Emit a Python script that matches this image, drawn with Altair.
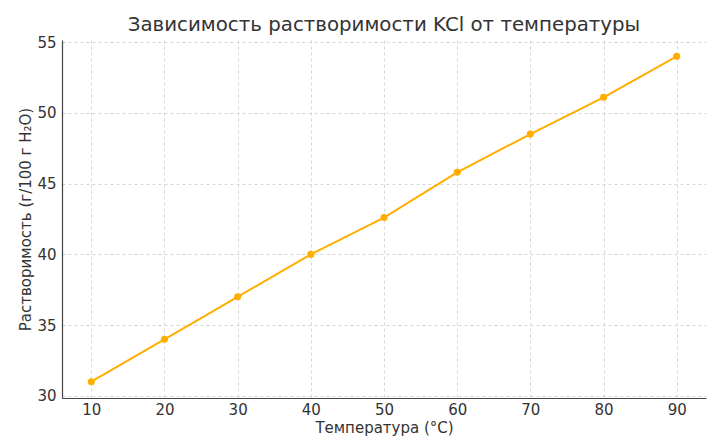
import altair as alt
import pandas as pd

temps = [10, 20, 30, 40, 50, 60, 70, 80, 90]
solubility = [31.0, 34.0, 37.0, 40.0, 42.6, 45.8, 48.5, 51.1, 54.0]
x_ticks = [10, 20, 30, 40, 50, 60, 70, 80, 90]
y_ticks = [30, 35, 40, 45, 50, 55]

df = pd.DataFrame({"t": temps, "s": solubility})

font = "DejaVu Sans"

base = alt.Chart(df).encode(
    x=alt.X("t:Q", title="Температура (°C)",
            scale=alt.Scale(domain=[6, 94], nice=False, zero=False),
            axis=alt.Axis(values=x_ticks, format="d")),
    y=alt.Y("s:Q", title="Растворимость (г/100 г H₂O)",
            scale=alt.Scale(domain=[29.85, 55.15], nice=False, zero=False),
            axis=alt.Axis(values=y_ticks, format="d")),
)

line = base.mark_line(color="#FFAE00", strokeWidth=2)
pts = base.mark_circle(color="#FFAE00", size=50, opacity=1)

chart = (line + pts).properties(
    width=644, height=358,
    title=alt.TitleParams("Зависимость растворимости KCl от температуры",
                          font=font, fontSize=19.8, fontWeight="normal",
                          color="#333333", offset=0),
    padding={"left": 54, "top": 32, "right": 2, "bottom": 38},
    autosize=alt.AutoSizeParams(type="none"),
).configure_view(stroke=None).configure_axis(
    labelFont=font, titleFont=font, labelFontSize=15, titleFontSize=15,
    titleFontWeight="normal", labelColor="#333333", titleColor="#333333",
    domainColor="#444444", domainWidth=1.2, ticks=False,
    gridColor="#cccccc", gridDash=[3, 3], gridWidth=0.8,
).configure_axisY(titlePadding=3, labelPadding=6).configure_axisX(titlePadding=3, labelPadding=4)

chart.save("out.html", embed_options={"renderer": "svg", "actions": False})
